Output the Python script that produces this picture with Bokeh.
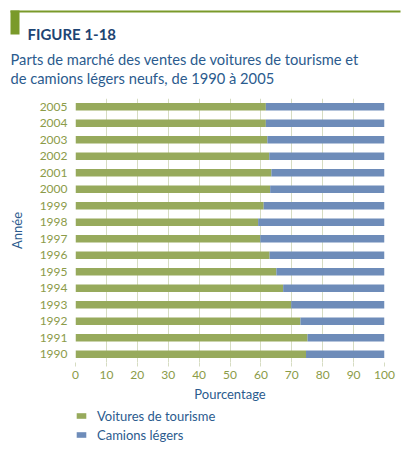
from bokeh.plotting import figure
from bokeh.models import (Range1d, FactorRange, Legend, LegendItem, ColumnDataSource)
from bokeh.core.properties import value
from bokeh.embed import file_html
from bokeh.resources import INLINE

years = ["1990", "1991", "1992", "1993", "1994", "1995", "1996", "1997",
         "1998", "1999", "2000", "2001", "2002", "2003", "2004", "2005"]
voitures = [74.6, 75.1, 72.8, 69.8, 67.2, 65.0, 62.8, 59.8,
            59.1, 60.9, 63.0, 63.4, 62.7, 62.1, 61.6, 61.6]
camions = [round(100 - v, 1) for v in voitures]
x_ticks = [0, 10, 20, 30, 40, 50, 60, 70, 80, 90, 100]
figure_label = "FIGURE 1-18"
title_lines = ["Parts de marché des ventes de voitures de tourisme et",
               "de camions légers neufs, de 1990 à 2005"]
series_names = ["Voitures de tourisme", "Camions légers"]

FONT = "Lato"
GREEN = "#97aa5c"
BLUE = "#6e8cb9"
NAVY = "#1d4473"
TXT = "#2b5b8e"
TICKG = "#8b9b48"
GRID = "#d6dcc2"
HEAD = "#7a9a2a"
COLORS = [GREEN, BLUE]

W = 410
HH = 90      # header height
HC = 316     # chart height
HF = 453 - HH - HC  # footer height


def bare(fig):
    fig.outline_line_color = None
    fig.xgrid.grid_line_color = None
    fig.ygrid.grid_line_color = None
    return fig


# ---------- header (pixel coordinates) ----------
h = bare(figure(width=W, height=HH, x_range=Range1d(0, W), y_range=Range1d(HH, 0),
                output_backend="svg", toolbar_location=None,
                x_axis_location=None, y_axis_location=None, min_border=0))
h.quad(left=[10, 10], right=[400, 19], top=[10, 10], bottom=[12, 34],
       fill_color=HEAD, line_color=None)
h.text(x=[27], y=[33.3], text=[figure_label], text_font=value(FONT),
       text_font_style="bold", text_font_size="15px", text_color=NAVY,
       text_baseline="alphabetic")
h.text(x=[10, 10], y=[58.5, 77.5], text=title_lines, text_font=value(FONT),
       text_font_size="14.7px", text_color=TXT, text_baseline="alphabetic")

# ---------- chart ----------
src = ColumnDataSource(dict(year=years, v=voitures, c=camions))
p = figure(width=W, height=HC, y_range=FactorRange(*years), x_range=Range1d(0, 100),
           output_backend="svg", toolbar_location=None,
           min_border_left=75, min_border_right=26, min_border_top=8,
           min_border_bottom=44)
p.outline_line_color = None

r = p.hbar_stack(["v", "c"], y="year", height=0.45, color=COLORS,
                 source=src, line_color=None)

p.xaxis.ticker = x_ticks
p.xaxis.axis_line_color = None
p.xaxis.major_tick_line_color = GRID
p.xaxis.major_tick_in = 0
p.xaxis.major_tick_out = 4
p.xaxis.minor_tick_line_color = None
p.xaxis.major_label_text_color = TICKG
p.xaxis.major_label_text_font = FONT
p.xaxis.major_label_text_font_size = "12px"
p.xaxis.major_label_standoff = 4
p.xaxis.axis_label = "Pourcentage"
p.xaxis.axis_label_text_font = FONT
p.xaxis.axis_label_text_font_style = "normal"
p.xaxis.axis_label_text_font_size = "13px"
p.xaxis.axis_label_text_color = TXT
p.xaxis.axis_label_standoff = 4

p.yaxis.axis_line_color = None
p.yaxis.major_tick_line_color = None
p.yaxis.major_tick_in = 0
p.yaxis.major_tick_out = 0
p.yaxis.minor_tick_line_color = None
p.yaxis.major_label_text_color = TICKG
p.yaxis.major_label_text_font = FONT
p.yaxis.major_label_text_font_size = "12px"
p.yaxis.major_label_standoff = 8
p.yaxis.axis_label = "Année"
p.yaxis.axis_label_text_font = FONT
p.yaxis.axis_label_text_font_style = "normal"
p.yaxis.axis_label_text_font_size = "13px"
p.yaxis.axis_label_text_color = TXT
p.yaxis.axis_label_standoff = 12

p.xgrid.grid_line_color = GRID
p.xgrid.grid_line_width = 1
p.ygrid.grid_line_color = None

# ---------- footer with legend ----------
f = bare(figure(width=W, height=HF, x_range=Range1d(0, W), y_range=Range1d(0, HF),
                output_backend="svg", toolbar_location=None,
                x_axis_location=None, y_axis_location=None, min_border=0))
# legend-only swatch renderers (kept outside the visible range)
swatches = [f.hbar(y=[-1000], left=[0], right=[1], height=1, color=c, line_color=None)
            for c in COLORS]
legend = Legend(items=[LegendItem(label=n, renderers=[s], index=0)
                       for n, s in zip(series_names, swatches)],
                location=(75, HF - 38), orientation="vertical",
                glyph_width=12, glyph_height=7, label_height=19, spacing=0,
                padding=0, margin=0, label_standoff=10,
                label_text_font=FONT, label_text_font_size="13px", label_text_color=TXT,
                border_line_color=None, background_fill_alpha=0)
f.add_layout(legend, "center")

open("out.html", "w").write(file_html([h, p, f], INLINE))
